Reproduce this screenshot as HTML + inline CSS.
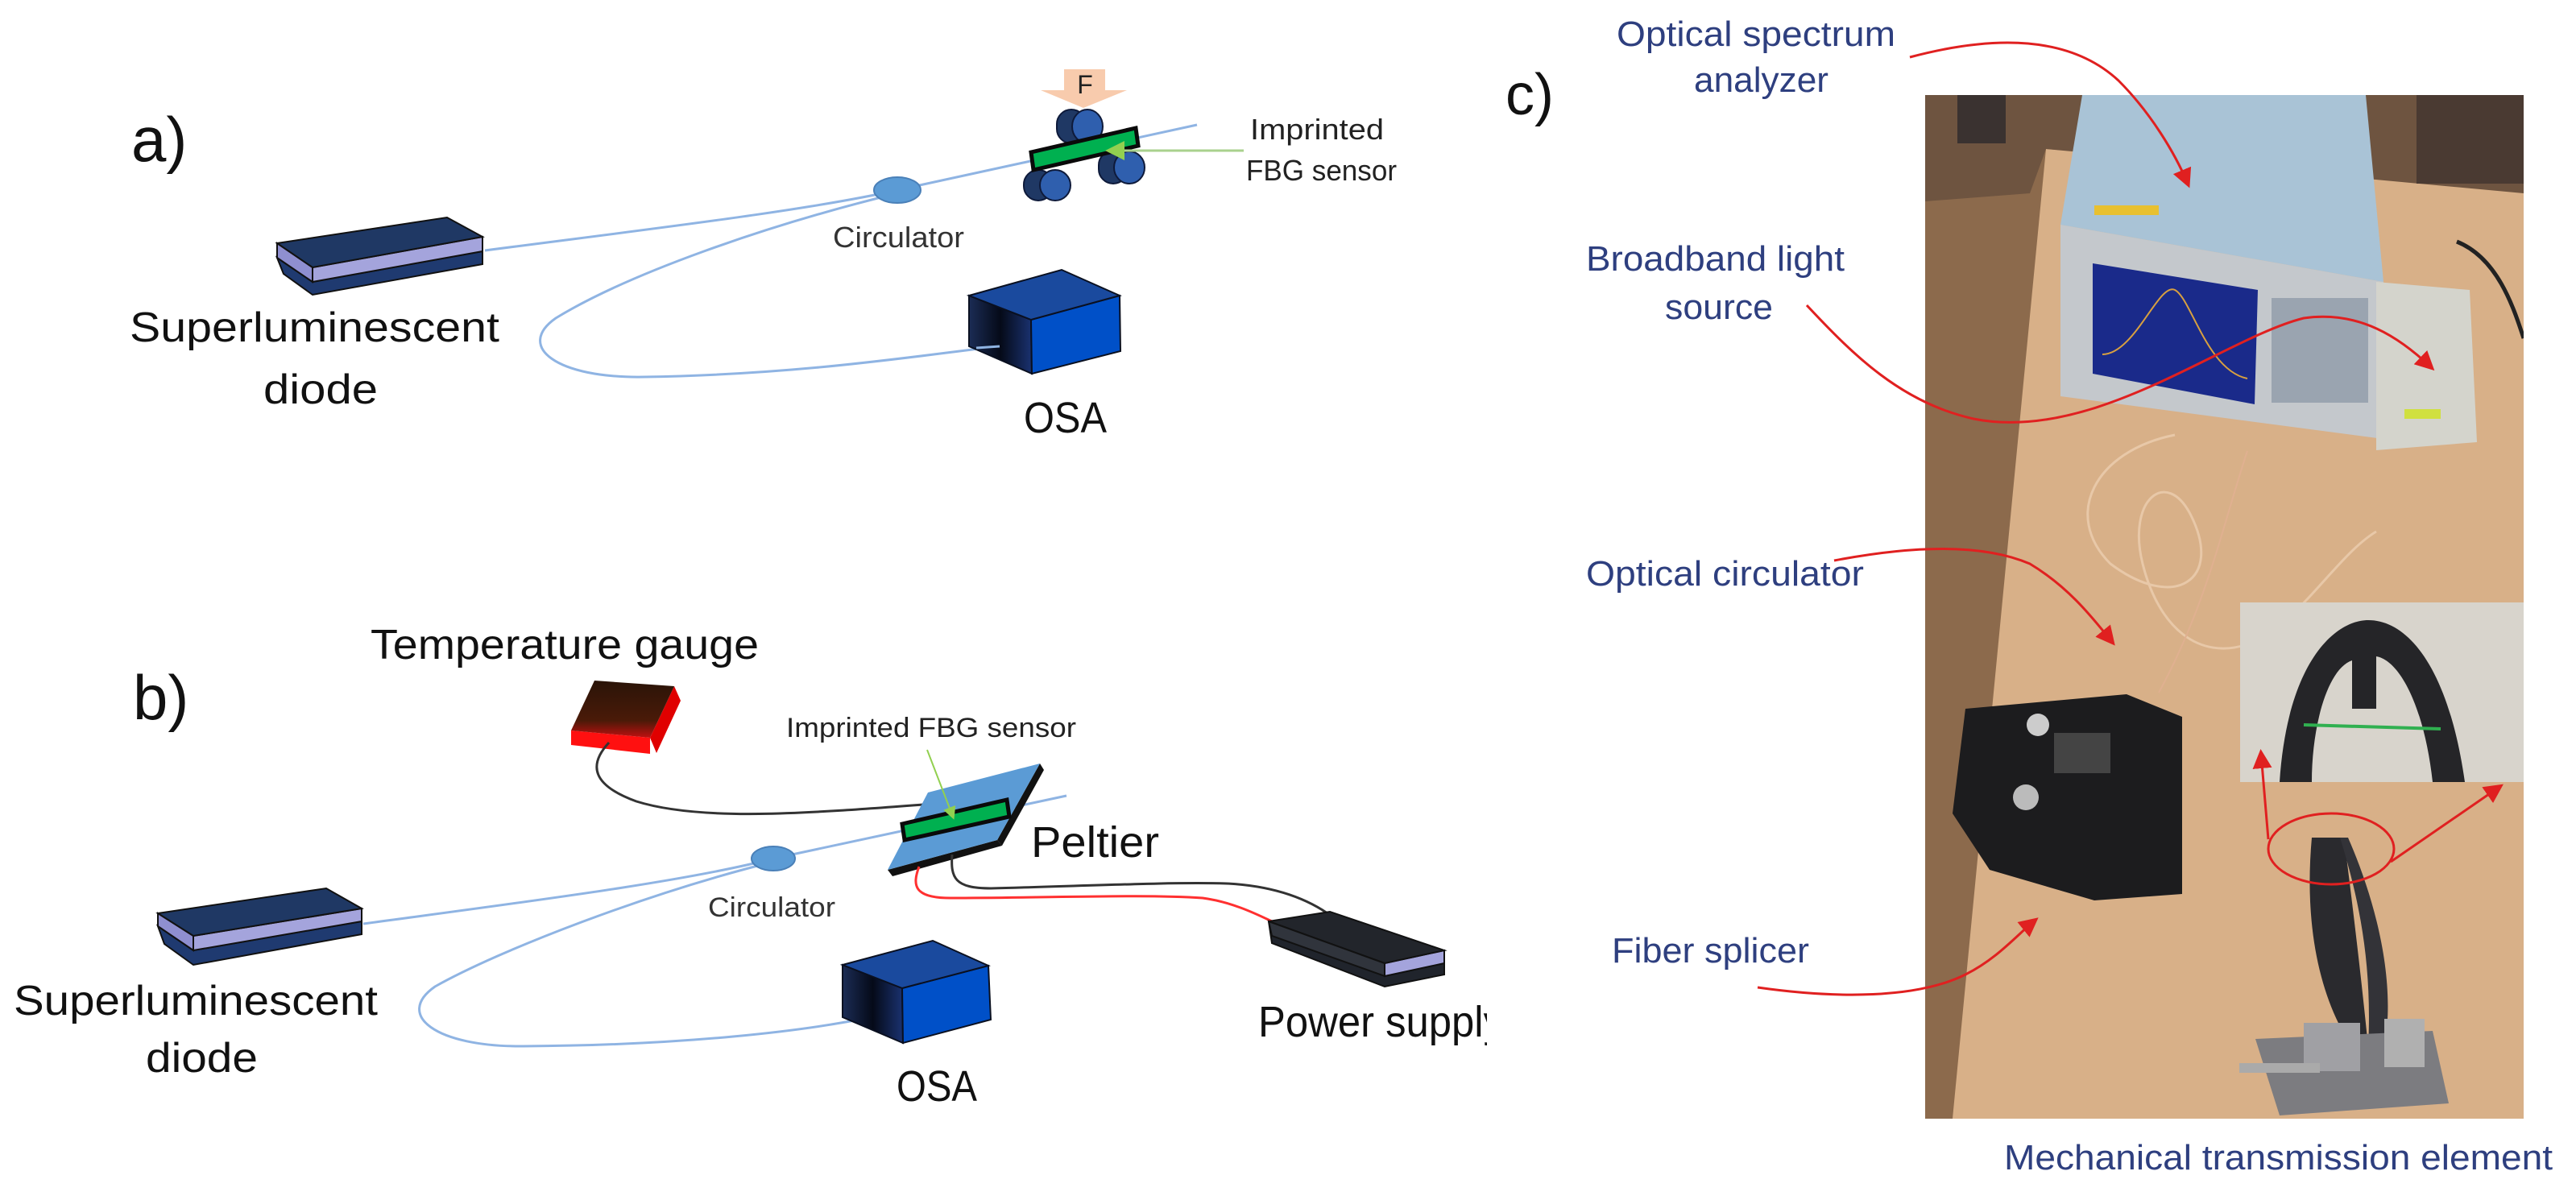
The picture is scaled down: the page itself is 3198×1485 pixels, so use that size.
<!DOCTYPE html>
<html><head><meta charset="utf-8"><style>
html,body{margin:0;padding:0;background:#fff;}
svg{display:block;}
text{font-family:"Liberation Sans",sans-serif;}
</style></head><body>
<svg width="3198" height="1485" viewBox="0 0 3198 1485" xmlns="http://www.w3.org/2000/svg">
<defs>
<linearGradient id="osaL" x1="0" x2="1" y1="0" y2="0"><stop offset="0" stop-color="#1b2c55"/><stop offset="0.5" stop-color="#050a18"/><stop offset="1" stop-color="#1a3270"/></linearGradient>
<linearGradient id="redT" x1="0" x2="0" y1="0" y2="1"><stop offset="0" stop-color="#2a1408"/><stop offset="0.7" stop-color="#4a1a08"/><stop offset="1" stop-color="#c01010"/></linearGradient>
<clipPath id="psclip"><rect x="0" y="0" width="1846" height="1485"/></clipPath>
<clipPath id="photo"><rect x="2390" y="118" width="743" height="1271"/></clipPath>
<marker id="ra" markerWidth="8" markerHeight="8" refX="6" refY="4" orient="auto" markerUnits="strokeWidth"><path d="M0,0 L8,4 L0,8 z" fill="#e02020"/></marker>
<marker id="ga" markerWidth="8" markerHeight="8" refX="6" refY="4" orient="auto" markerUnits="strokeWidth"><path d="M0,0 L8,4 L0,8 z" fill="#92d050"/></marker>
</defs>

<!-- ============ PANEL A ============ -->
<text x="163" y="200" font-size="78" fill="#111">a)</text>

<path d="M602,311 C800,285 1000,262 1114,236" fill="none" stroke="#8fb4e3" stroke-width="3"/>
<path d="M1114,240 C950,280 780,340 690,395 C640,430 690,470 800,468 C1000,465 1150,440 1241,430" fill="none" stroke="#8fb4e3" stroke-width="3"/>
<path d="M1114,236 L1486,155" fill="none" stroke="#8fb4e3" stroke-width="3"/>

<path d="M344,320 L388,350 L599,312 L599,328 L388,366 L352,340 Z" fill="#1f3a70" stroke="#111" stroke-width="2"/>
<path d="M344,302 L388,332 L388,350 L344,320 Z" fill="#8f8fd0" stroke="#111" stroke-width="2"/>
<path d="M388,332 L599,294 L599,312 L388,350 Z" fill="#a4a4dc" stroke="#111" stroke-width="2"/>
<path d="M344,302 L555,270 L599,294 L388,332 Z" fill="#1f3864" stroke="#111" stroke-width="2"/>
<text x="161" y="424" font-size="52" fill="#111" textLength="459" lengthAdjust="spacingAndGlyphs">Superluminescent</text>
<text x="327" y="501" font-size="52" fill="#111" textLength="142" lengthAdjust="spacingAndGlyphs">diode</text>

<ellipse cx="1114" cy="236" rx="29" ry="16" fill="#5b9bd5" stroke="#4a80b8" stroke-width="2"/>
<text x="1034" y="307" font-size="36" fill="#333" textLength="163" lengthAdjust="spacingAndGlyphs">Circulator</text>

<path d="M1321,86 L1372,86 L1372,112 L1399,112 L1345,134 L1292,112 L1321,112 Z" fill="#f8cbad"/>
<text x="1347" y="116" font-size="32" fill="#222" text-anchor="middle">F</text>

<g stroke="#0e1a3a" stroke-width="2">
<rect x="1312" y="136" width="36" height="42" rx="18" fill="#1f3864"/>
<ellipse cx="1350" cy="157" rx="19" ry="21" fill="#2f5fae"/>
<rect x="1271" y="211" width="36" height="38" rx="18" fill="#1f3864"/>
<ellipse cx="1310" cy="230" rx="19" ry="19" fill="#2f5fae"/>
<rect x="1364" y="187" width="36" height="41" rx="18" fill="#1f3864"/>
<ellipse cx="1402" cy="208" rx="19" ry="20" fill="#2f5fae"/>
</g>
<path d="M1280,189 L1410,159 L1413,181 L1283,211 Z" fill="#00b050" stroke="#0a0a0a" stroke-width="5"/>
<path d="M1544,187 L1378,187" stroke="#a9d18e" stroke-width="3" marker-end="url(#ga)"/>
<text x="1552" y="173" font-size="36" fill="#222" textLength="166" lengthAdjust="spacingAndGlyphs">Imprinted</text>
<text x="1547" y="224" font-size="36" fill="#222" textLength="187" lengthAdjust="spacingAndGlyphs">FBG sensor</text>

<path d="M1203,367 L1280,397 L1281,464 L1203,430 Z" fill="url(#osaL)" stroke="#0a1020" stroke-width="2"/>
<path d="M1280,397 L1390,367 L1391,436 L1281,464 Z" fill="#0050c8" stroke="#0a1020" stroke-width="2"/>
<path d="M1203,367 L1318,335 L1390,367 L1280,397 Z" fill="#1a4a9e" stroke="#0a1020" stroke-width="2"/>
<path d="M1241,430 L1212,432" stroke="#8fb4e3" stroke-width="3"/>
<text x="1271" y="537" font-size="54" fill="#111" textLength="103" lengthAdjust="spacingAndGlyphs">OSA</text>

<!-- ============ PANEL B ============ -->
<text x="165" y="893" font-size="78" fill="#111">b)</text>
<text x="460" y="818" font-size="52" fill="#111" textLength="482" lengthAdjust="spacingAndGlyphs">Temperature gauge</text>

<path d="M709,907 L807,916 L807,936 L709,925 Z" fill="#ff1010"/>
<path d="M807,916 L837,852 L845,870 L815,935 Z" fill="#e00000"/>
<path d="M738,845 L837,852 L807,916 L709,907 Z" fill="url(#redT)"/>
<path d="M756,922 C730,950 735,975 790,995 C870,1020 1000,1010 1146,999" fill="none" stroke="#333" stroke-width="3"/>

<path d="M451,1147 C650,1120 850,1095 960,1066" fill="none" stroke="#8fb4e3" stroke-width="3"/>
<path d="M960,1070 C800,1110 620,1180 540,1225 C490,1260 540,1300 650,1299 C850,1298 1000,1280 1081,1263" fill="none" stroke="#8fb4e3" stroke-width="3"/>
<path d="M960,1066 L1324,988" fill="none" stroke="#8fb4e3" stroke-width="3"/>

<path d="M196,1150 L240,1180 L449,1144 L449,1160 L240,1198 L204,1172 Z" fill="#1f3a70" stroke="#111" stroke-width="2"/>
<path d="M196,1134 L240,1162 L240,1180 L196,1150 Z" fill="#8f8fd0" stroke="#111" stroke-width="2"/>
<path d="M240,1162 L449,1128 L449,1144 L240,1180 Z" fill="#a4a4dc" stroke="#111" stroke-width="2"/>
<path d="M196,1134 L405,1103 L449,1128 L240,1162 Z" fill="#1f3864" stroke="#111" stroke-width="2"/>
<text x="17" y="1260" font-size="52" fill="#111" textLength="452" lengthAdjust="spacingAndGlyphs">Superluminescent</text>
<text x="181" y="1331" font-size="52" fill="#111" textLength="139" lengthAdjust="spacingAndGlyphs">diode</text>

<ellipse cx="960" cy="1066" rx="27" ry="15" fill="#5b9bd5" stroke="#4a80b8" stroke-width="2"/>
<text x="879" y="1138" font-size="34" fill="#333" textLength="158" lengthAdjust="spacingAndGlyphs">Circulator</text>

<path d="M1102,1080 L1238,1043 L1244,1050 L1108,1088 Z" fill="#111"/>
<path d="M1238,1043 L1291,948 L1296,956 L1244,1050 Z" fill="#111"/>
<path d="M1152,984 L1291,948 L1238,1043 L1102,1080 Z" fill="#5b9bd5"/>
<path d="M1120,1023 L1250,993 L1253,1014 L1123,1043 Z" fill="#00b050" stroke="#0a0a0a" stroke-width="5"/>
<path d="M1151,931 L1183,1014" stroke="#92d050" stroke-width="2" marker-end="url(#ga)"/>
<text x="976" y="915" font-size="34" fill="#222" textLength="360" lengthAdjust="spacingAndGlyphs">Imprinted FBG sensor</text>
<text x="1280" y="1064" font-size="54" fill="#111" textLength="159" lengthAdjust="spacingAndGlyphs">Peltier</text>

<path d="M1182,1061 C1180,1090 1185,1103 1230,1103 C1350,1100 1450,1095 1523,1097 C1580,1100 1620,1115 1648,1134" fill="none" stroke="#333" stroke-width="3"/>
<path d="M1141,1076 C1132,1100 1135,1115 1180,1115 C1300,1115 1420,1110 1493,1115 C1530,1120 1560,1135 1579,1144" fill="none" stroke="#ff3030" stroke-width="3"/>

<path d="M1575,1144 L1579,1171 L1719,1225 L1793,1210 L1793,1196 L1719,1212 Z" fill="#20242c" stroke="#111" stroke-width="2"/>
<path d="M1719,1196 L1793,1180 L1793,1196 L1719,1212 Z" fill="#a4a4dc" stroke="#111" stroke-width="2"/>
<path d="M1575,1144 L1651,1132 L1793,1180 L1719,1196 Z" fill="#22252b" stroke="#111" stroke-width="2"/>
<path d="M1575,1144 L1719,1196 L1719,1212 L1579,1162 Z" fill="#30343c" stroke="#111" stroke-width="2"/>
<g clip-path="url(#psclip)"><text x="1562" y="1287" font-size="54" fill="#111" textLength="305" lengthAdjust="spacingAndGlyphs">Power supply</text></g>

<path d="M1046,1198 L1120,1227 L1121,1295 L1046,1263 Z" fill="url(#osaL)" stroke="#0a1020" stroke-width="2"/>
<path d="M1120,1227 L1227,1199 L1230,1266 L1121,1295 Z" fill="#0050c8" stroke="#0a1020" stroke-width="2"/>
<path d="M1046,1198 L1158,1168 L1227,1199 L1120,1227 Z" fill="#1a4a9e" stroke="#0a1020" stroke-width="2"/>
<text x="1113" y="1367" font-size="54" fill="#111" textLength="100" lengthAdjust="spacingAndGlyphs">OSA</text>

<!-- ============ PANEL C ============ -->
<text x="1869" y="142" font-size="72" fill="#111">c)</text>

<g clip-path="url(#photo)">
<rect x="2390" y="118" width="743" height="1271" fill="#8c6a4c"/>
<path d="M2540,185 L3133,230 L3133,1389 L2424,1389 Z" fill="#d8b088"/>
<path d="M2390,118 L3133,118 L3133,240 L2540,185 L2520,240 L2390,250 Z" fill="#6e5440"/>
<rect x="2430" y="118" width="60" height="60" fill="#3a3230"/>
<rect x="3000" y="118" width="133" height="110" fill="#4a3a32"/>
<path d="M3050,300 C3100,320 3120,380 3133,420" fill="none" stroke="#222" stroke-width="5"/>
<!-- OSA instrument -->
<path d="M2585,118 L2937,118 L2959,350 L2558,279 Z" fill="#a9c3d6"/>
<path d="M2558,279 L2959,350 L2959,545 L2558,492 Z" fill="#c4c8cc"/>
<path d="M2598,327 L2803,360 L2799,502 L2598,464 Z" fill="#1a2a8a"/>
<path d="M2610,440 C2650,440 2680,350 2700,360 C2720,370 2740,460 2790,470" fill="none" stroke="#d8a040" stroke-width="2"/>
<rect x="2820" y="370" width="120" height="130" fill="#9aa4b0"/>
<rect x="2600" y="255" width="80" height="12" fill="#e8c030"/>
<!-- light source -->
<path d="M2950,350 L3066,360 L3075,549 L2950,559 Z" fill="#d4d4cc"/>
<rect x="2985" y="508" width="45" height="12" fill="#d0e040"/>
<!-- fibers -->
<path d="M2700,540 C2600,560 2560,640 2620,700 C2700,760 2760,720 2720,640 C2690,580 2640,620 2660,700 C2680,780 2730,820 2790,800 C2850,780 2900,690 2950,660" fill="none" stroke="#e8c8a8" stroke-width="3"/>
<path d="M2790,560 C2760,650 2740,750 2680,860" fill="none" stroke="#e0b090" stroke-width="2"/>
<!-- splicer -->
<path d="M2440,880 L2640,862 L2709,890 L2709,1110 L2600,1118 L2470,1080 L2424,1010 Z" fill="#1c1c1e"/>
<rect x="2550" y="910" width="70" height="50" fill="#444"/>
<circle cx="2530" cy="900" r="14" fill="#ccc"/>
<circle cx="2515" cy="990" r="16" fill="#bbb"/>
<!-- mechanical element legs -->
<path d="M2870,1040 C2860,1150 2880,1240 2920,1300 L2940,1300 C2930,1200 2920,1120 2910,1040 Z" fill="#2a2a2e"/>
<path d="M2915,1040 C2950,1120 2975,1220 2960,1300 L2940,1300 C2945,1200 2930,1120 2905,1040 Z" fill="#333338"/>
<!-- vise -->
<path d="M2800,1290 L3020,1280 L3040,1370 L2830,1385 Z" fill="#7c7c80"/>
<rect x="2860" y="1270" width="70" height="60" fill="#a0a0a4"/>
<rect x="2960" y="1265" width="50" height="60" fill="#b0b0b0"/>
<rect x="2780" y="1320" width="100" height="12" fill="#aaa"/>
<!-- inset -->
<rect x="2781" y="748" width="352" height="223" fill="#d8d4cc"/>
<path d="M2830,971 C2840,820 2900,770 2940,770 C2990,770 3040,830 3060,971 L3020,971 C3010,880 2980,820 2950,815 L2950,880 L2920,880 L2920,820 C2890,830 2870,900 2870,971 Z" fill="#252528"/>
<path d="M2860,900 L3030,905" stroke="#30b050" stroke-width="4"/>
</g>

<g fill="#2e3f7f" font-size="44">
<text x="2007" y="57" textLength="346" lengthAdjust="spacingAndGlyphs">Optical spectrum</text>
<text x="2103" y="114" textLength="167" lengthAdjust="spacingAndGlyphs">analyzer</text>
<text x="1969" y="336" textLength="321" lengthAdjust="spacingAndGlyphs">Broadband light</text>
<text x="2067" y="396" textLength="134" lengthAdjust="spacingAndGlyphs">source</text>
<text x="1969" y="727" textLength="345" lengthAdjust="spacingAndGlyphs">Optical circulator</text>
<text x="2001" y="1195" textLength="245" lengthAdjust="spacingAndGlyphs">Fiber splicer</text>
<text x="2488" y="1452" textLength="681" lengthAdjust="spacingAndGlyphs">Mechanical transmission element</text>
</g>

<g fill="none" stroke="#e02020" stroke-width="3">
<path d="M2371,71 C2450,50 2560,35 2630,100 C2670,140 2700,190 2716,228" marker-end="url(#ra)"/>
<path d="M2243,379 C2300,440 2360,500 2450,520 C2600,550 2760,420 2860,395 C2930,385 2980,420 3018,456" marker-end="url(#ra)"/>
<path d="M2277,696 C2350,682 2450,670 2520,700 C2570,730 2600,770 2622,797" marker-end="url(#ra)"/>
<path d="M2182,1226 C2280,1240 2380,1240 2440,1210 C2480,1190 2505,1160 2526,1143" marker-end="url(#ra)"/>
<ellipse cx="2894" cy="1054" rx="78" ry="44"/>
<path d="M2816,1042 L2807,936" marker-end="url(#ra)"/>
<path d="M2968,1070 L3103,977" marker-end="url(#ra)"/>
</g>
</svg>
</body></html>
